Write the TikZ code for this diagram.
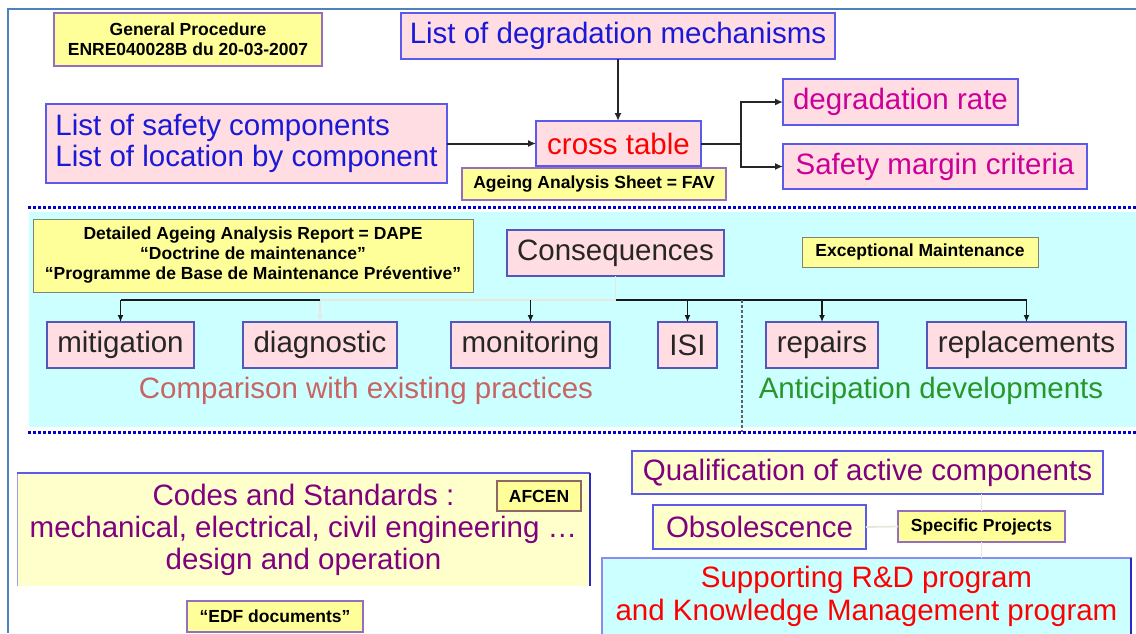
\documentclass[tikz,border=0pt]{standalone}
\usepackage{fontspec}
\setmainfont{Liberation Sans}
\usetikzlibrary{arrows.meta,shadows}
\definecolor{framecol}{RGB}{79,129,189}
\definecolor{pinkfill}{RGB}{255,221,226}
\definecolor{bluebd}{RGB}{90,90,235}
\definecolor{bluesh}{RGB}{40,40,200}
\definecolor{midbd}{RGB}{85,85,190}
\definecolor{yelfill}{RGB}{255,255,153}
\definecolor{paleyel}{RGB}{255,255,204}
\definecolor{purplebd}{RGB}{150,110,190}
\definecolor{graybd}{RGB}{130,130,110}
\definecolor{cyanfill}{RGB}{204,255,255}
\definecolor{dotblue}{RGB}{0,0,210}
\definecolor{txtblue}{RGB}{25,25,215}
\definecolor{txtred}{RGB}{255,0,0}
\definecolor{txtmag}{RGB}{204,0,153}
\definecolor{txtpurple}{RGB}{128,0,128}
\definecolor{txtrose}{RGB}{200,100,100}
\definecolor{txtgreen}{RGB}{40,150,40}
\definecolor{faint}{RGB}{232,232,222}
\definecolor{sepgray}{RGB}{95,95,95}
\newcommand\BigTxt{\fontsize{29.5}{31}\selectfont}
\newcommand\SmallBold{\fontsize{17.5}{20}\selectfont\bfseries}
\tikzset{
  box/.style={inner sep=0pt, outer sep=0pt, align=center},
  sz/.style 2 args={minimum width=#1pt, minimum height=#2pt},
  pinkA/.style={box, draw=bluebd, line width=1.3pt, fill=pinkfill, font=\BigTxt,
    general shadow={fill=bluesh, shadow xshift=1.3pt, shadow yshift=-1.3pt}},
  pinkB/.style={box, draw=midbd, line width=1.1pt, fill=pinkfill, font=\BigTxt, text=black!85},
  yelA/.style={box, draw=purplebd, line width=1.1pt, fill=yelfill, font=\SmallBold, text=black},
  yelB/.style={box, draw=graybd, line width=0.9pt, fill=yelfill, font=\SmallBold, text=black},
  yelC/.style={box, draw=bluebd, line width=1.3pt, fill=paleyel, font=\BigTxt, text=txtpurple,
    general shadow={fill=bluesh, shadow xshift=1.2pt, shadow yshift=-1.2pt}},
  bigtext/.style={inner sep=0pt, font=\BigTxt},
  topline/.style={draw=black!85, line width=2pt},
  toparr/.style={topline, -{Latex[length=8pt,width=7pt]}},
  busline/.style={draw=black!90, line width=1.3pt},
  busarr/.style={busline, -{Latex[length=7pt,width=6pt]}},
  faintline/.style={draw=faint, line width=1.8pt},
  faintarr/.style={faintline, -{Latex[length=7pt,width=6pt]}},
  dotsep/.style={draw=dotblue, line width=3pt, dash pattern=on 3pt off 2pt},
  graysep/.style={draw=sepgray, line width=2.8pt, dash pattern=on 2.6pt off 2.4pt},
}
\begin{document}
\begin{tikzpicture}[x=1pt,y=-1pt]
\useasboundingbox (0,0) rectangle (1136,633);
\fill[white] (0,0) rectangle (1136,633);
% frame
\coordinate (fTL) at (8,9);
\coordinate (fTR) at (1136,9);
\coordinate (fBL) at (8,633);
\draw[framecol, line width=1.6pt] (fTR) -- (fTL) -- (fBL);
% middle band
\fill[cyanfill] (29,212) rectangle (1136,427);
\coordinate (d1L) at (28,207);
\coordinate (d1R) at (1136,207);
\coordinate (d2L) at (28,432);
\coordinate (d2R) at (1136,432);
\draw[dotsep] (d1L) -- (d1R);
\draw[dotsep] (d2L) -- (d2R);

% ---------- top section ----------
\node[yelA, sz={268}{53}] (gp) at (188,39.5) {General Procedure\\ENRE040028B du 20-03-2007};
\node[pinkA, sz={434}{46}, text=txtblue] (dm) at (618,36) {List of degradation mechanisms};
\node[pinkA, sz={401}{79}, text=txtblue, align=left] (ls) at (246.5,143.5) {List of safety components\\List of location by component};
\node[pinkA, sz={165}{45}, text=txtred] (ct) at (618.5,143.5) {cross table};
\node[yelA, sz={264}{32}] (fav) at (594,184) {Ageing Analysis Sheet = FAV};
\node[pinkA, sz={235}{46}, text=txtmag] (dr) at (900.5,102) {degradation rate};
\node[pinkA, sz={304}{45}, text=txtmag] (smc) at (935,166.5) {Safety margin criteria};

\draw[toparr] (dm.south) -- (dm.south |- ct.north);
\draw[toparr] (ls.east) -- (ct.west);
\coordinate (br) at (741,143.5);
\draw[topline] (ct.east) -- (br);
\draw[toparr] (br) |- (dr.west);
\draw[toparr] (br) |- (smc.west);

% ---------- middle section ----------
\node[yelB, sz={440}{73}, font=\fontsize{17.5}{20}\selectfont\bfseries] (dape) at (253,255.5)
  {Detailed Ageing Analysis Report = DAPE\\“Doctrine de maintenance”\\“Programme de Base de Maintenance Préventive”};
\node[pinkB, sz={217}{46}] (cons) at (615.5,253) {Consequences};
\node[yelB, sz={236}{30}] (exc) at (920,252) {Exceptional Maintenance};

\node[pinkB, sz={147}{46}] (mit) at (120.5,345) {mitigation};
\node[pinkB, sz={154}{46}] (diag) at (320,345) {diagnostic};
\node[pinkB, sz={159}{46}] (mon) at (530.5,345) {monitoring};
\node[pinkB, sz={59}{46}] (isi) at (687.5,345) {ISI};
\node[pinkB, sz={112}{46}] (rep) at (822,345) {repairs};
\node[pinkB, sz={199}{46}] (repl) at (1026.5,345) {replacements};

\node[bigtext, text=txtrose] (comp) at (366,391) {Comparison with existing practices};
\node[bigtext, text=txtgreen] (anti) at (931,391) {Anticipation developments};

\coordinate (bus) at (0,300);
\draw[faintline] (cons.south) -- (cons.south |- bus);
\draw[faintline] (diag.north |- bus) -- (cons.south |- bus);
\draw[faintarr] (diag.north |- bus) -- (diag.north);
\draw[busline] (mit.north |- bus) -- (diag.north |- bus);
\draw[busline] (cons.south |- bus) -- (repl.north |- bus);
\draw[busarr] (mit.north |- bus) -- (mit.north);
\draw[busarr] (mon.north |- bus) -- (mon.north);
\draw[busarr] (isi.north |- bus) -- (isi.north);
\draw[busarr] (rep.north |- bus) -- (rep.north);
\draw[busarr] (repl.north |- bus) -- (repl.north);

\coordinate (sepT) at (742,300);
\coordinate (sepB) at (742,432);
\draw[graysep] (sepT) -- (sepB);

% ---------- bottom section ----------
\node[box, sz={573}{113}, fill=paleyel, font=\fontsize{29.5}{32}\selectfont, text=txtpurple] (codes) at (303.5,529.5)
  {Codes and Standards :\\mechanical, electrical, civil engineering …\\design and operation};
\draw[bluebd!60, line width=0.8pt] (codes.south west) -- (codes.north west);
\draw[bluebd, line width=1.3pt] (codes.north west) -- (codes.north east);
\draw[bluesh, line width=2pt] (codes.north east) -- (codes.south east);
\node[yelA, sz={84}{30}, draw=graybd!80!purple] (afcen) at (539,496) {AFCEN};
\node[yelA, sz={176}{31}] (edf) at (275,616.5) {“EDF documents”};

\node[yelC, sz={471}{43}] (qual) at (867.5,472.5) {Qualification of active components};
\node[yelC, sz={213}{44}] (obs) at (759.5,527) {Obsolescence};
\node[yelA, sz={167}{31}] (sp) at (981.5,526.5) {Specific Projects};
\node[box, sz={529}{77}, fill=cyanfill, draw=bluebd!70, line width=1.2pt,
  font=\fontsize{29.5}{33}\selectfont, text=txtred] (sup) at (866.5,596.5)
  {Supporting R\&D program\\and Knowledge Management program};
\draw[bluesh, line width=2pt] (sup.north east) -- (sup.south east);

\draw[faintline] (obs.east) -- (sp.west);
\draw[faintline] (sp.north) -- (sp.north |- qual.south);
\draw[faintline] (sp.south) -- (sp.south |- sup.north);
\end{tikzpicture}
\end{document}
